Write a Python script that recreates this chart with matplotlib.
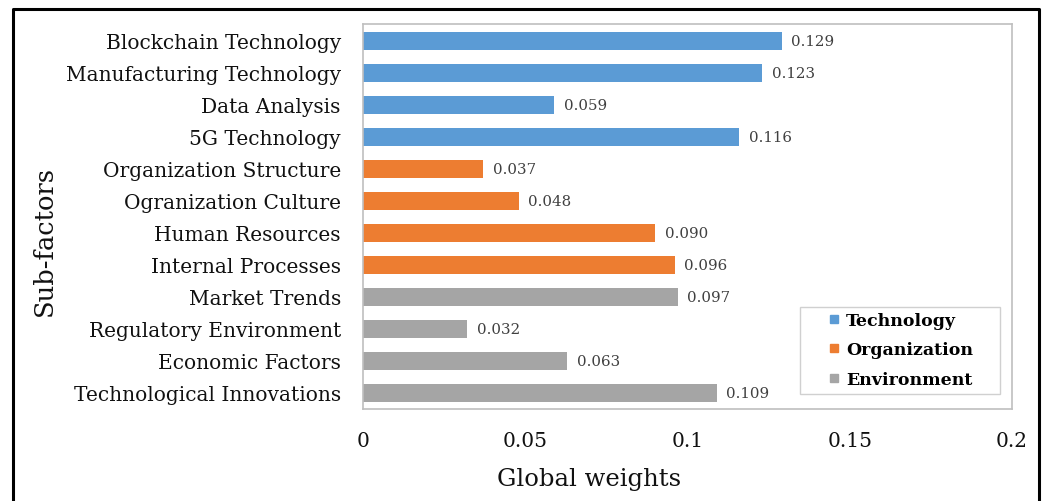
import matplotlib
matplotlib.use('Agg')
import matplotlib.pyplot as plt
from matplotlib.lines import Line2D
from matplotlib.patches import Rectangle

subfactors = ["Blockchain Technology", "Manufacturing Technology", "Data Analysis",
              "5G Technology", "Organization Structure", "Ogranization Culture",
              "Human Resources", "Internal Processes", "Market Trends",
              "Regulatory Environment", "Economic Factors", "Technological Innovations"]
weights = [0.129, 0.123, 0.059, 0.116, 0.037, 0.048, 0.090, 0.096, 0.097, 0.032, 0.063, 0.109]
groups = ["Technology"] * 4 + ["Organization"] * 4 + ["Environment"] * 4
group_names = ["Technology", "Organization", "Environment"]
group_colors = {"Technology": "#5B9BD5", "Organization": "#ED7D31", "Environment": "#A5A5A5"}
xticks = [0, 0.05, 0.1, 0.15, 0.2]
xtick_labels = ["0", "0.05", "0.1", "0.15", "0.2"]

plt.rcParams['font.family'] = ['DejaVu Serif']

W, H = 1047, 502
fig = plt.figure(figsize=(W / 100, H / 100), dpi=100)
ax = fig.add_axes([363 / W, 1 - 410 / H, (1012 - 363) / W, (410 - 25) / H])

ypos = list(range(len(subfactors)))
colors = [group_colors[g] for g in groups]
ax.barh(ypos, weights, height=0.54, color=colors)
ax.set_ylim(11.5, -0.53)
ax.set_xlim(0, 0.2)
ax.set_yticks(ypos)
ax.set_yticklabels(subfactors, fontsize=14.5, color='#111111')
ax.set_xticks(xticks)
ax.set_xticklabels(xtick_labels, fontsize=14.5, color='#111111')
ax.tick_params(axis='y', length=0, pad=16)
ax.tick_params(axis='x', length=0, pad=16)
for s in ax.spines.values():
    s.set_color('#BFBFBF')
    s.set_linewidth(1.2)

for y, v in zip(ypos, weights):
    ax.annotate(f"{v:.3f}", (v, y), xytext=(7, 0), textcoords='offset points',
                va='center', ha='left', fontsize=10.8, color='#404040')

fig.text(589 / W, 1 - 480 / H, "Global weights", ha='center', va='center', fontsize=17.5, color='#111111')
fig.text(44 / W, 1 - 241 / H, "Sub-factors", ha='center', va='center', rotation=90, fontsize=18.5, color='#111111')

# legend frame
fig.add_artist(Rectangle((800 / W, 1 - 395 / H), 200 / W, 87 / H, transform=fig.transFigure,
                         facecolor='white', edgecolor='#D0D0D0', linewidth=1.0))
handles = [Line2D([], [], linestyle='none', marker='s', markersize=6,
                  markerfacecolor=group_colors[g], markeredgecolor=group_colors[g]) for g in group_names]
leg = fig.legend(handles, group_names, loc='center left', bbox_to_anchor=(820 / W, 1 - 351 / H),
                 borderaxespad=0, frameon=False, handlelength=0.8, handletextpad=0.3,
                 labelspacing=0.7, prop={'weight': 'bold', 'size': 12.5})

# outer border (left, top, right)
fig.add_artist(Line2D([13 / W, 13 / W, 1039 / W, 1039 / W], [0, 1 - 10 / H, 1 - 10 / H, 0],
                      transform=fig.transFigure, color='black', linewidth=2.2))

fig.savefig("out.png", dpi=100)
